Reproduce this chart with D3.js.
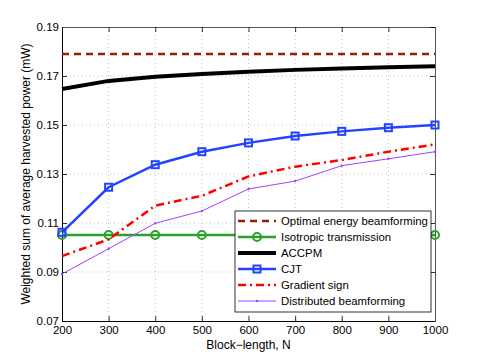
<!DOCTYPE html>
<html><head><meta charset="utf-8">
<script src="https://cdn.jsdelivr.net/npm/d3@7"></script>
<style>body{margin:0;background:#fff}text{font-family:"Liberation Sans",Arial,sans-serif}</style>
</head><body><svg id="c" width="480" height="361"></svg>
<script>
const blockLengths = [200,300,400,500,600,700,800,900,1000];
const optimal     = [0.179,0.179,0.179,0.179,0.179,0.179,0.179,0.179,0.179];
const isotropic   = [0.1051,0.1051,0.1051,0.1051,0.1051,0.1051,0.1051,0.1051,0.1051];
const accpm       = [0.1647,0.1680,0.1697,0.1708,0.1717,0.1725,0.1731,0.1736,0.1740];
const cjt         = [0.1062,0.1246,0.1338,0.1391,0.1427,0.1455,0.1474,0.1489,0.1500];
const gradient    = [0.0965,0.1033,0.1171,0.1211,0.1290,0.1330,0.1357,0.1391,0.1421];
const distributed = [0.0892,0.0995,0.1099,0.1149,0.1239,0.1271,0.1334,0.1362,0.1391];
const xTicks = [200,300,400,500,600,700,800,900,1000];
const yTicks = [0.07,0.09,0.11,0.13,0.15,0.17,0.19];
const seriesNames = ["Optimal energy beamforming","Isotropic transmission","ACCPM","CJT","Gradient sign","Distributed beamforming"];

const svg = d3.select("#c");
const L=62,R=435,T=27,B=321;
const x = d3.scaleLinear().domain([200,1000]).range([L,R]);
const y = d3.scaleLinear().domain([0.07,0.19]).range([B,T]);

// grid
const g = svg.append("g");
g.selectAll(".gx").data(xTicks.slice(1,-1)).join("line")
 .attr("x1",d=>x(d)).attr("x2",d=>x(d)).attr("y1",T).attr("y2",B)
 .attr("stroke","#b0b0b0").attr("stroke-width",0.8).attr("stroke-dasharray","1,3");
g.selectAll(".gy").data(yTicks.slice(1,-1)).join("line")
 .attr("y1",d=>y(d)).attr("y2",d=>y(d)).attr("x1",L).attr("x2",R)
 .attr("stroke","#b0b0b0").attr("stroke-width",0.8).attr("stroke-dasharray","1,3");

// axes
const fmt = d3.format(".2f");
const ax = svg.append("g").attr("transform",`translate(0,${B})`)
 .call(d3.axisBottom(x).tickValues(xTicks).tickSize(-5).tickPadding(5).tickFormat(d3.format("d")));
const ay = svg.append("g").attr("transform",`translate(${L},0)`)
 .call(d3.axisLeft(y).tickValues(yTicks).tickSize(-5).tickPadding(3).tickFormat(fmt));
const axTop = svg.append("g").attr("transform",`translate(0,${T})`)
 .call(d3.axisTop(x).tickValues(xTicks).tickSize(-5).tickFormat(""));
const ayR = svg.append("g").attr("transform",`translate(${R},0)`)
 .call(d3.axisRight(y).tickValues(yTicks).tickSize(-5).tickFormat(""));
[ax,ay,axTop,ayR].forEach(a=>{
  a.selectAll("text").attr("font-size",11.5).attr("fill","#000").style("font-family","Liberation Sans, Arial, sans-serif");
  a.selectAll(".domain").attr("stroke","#000").attr("stroke-width",1);
  a.selectAll(".tick line").attr("stroke","#000").attr("stroke-width",0.8);
});
axTop.select(".domain").attr("stroke","#555");
ayR.select(".domain").attr("stroke","#555");

const line = d3.line().x((d,i)=>x(blockLengths[i])).y(d=>y(d));
const pg = svg.append("g");
const series = [
 {name:seriesNames[0],data:optimal,color:"#9b1a0a",w:2.5,dash:"7,5",marker:null},
 {name:seriesNames[1],data:isotropic,color:"#2ca02c",w:2.5,dash:null,marker:"circle"},
 {name:seriesNames[2],data:accpm,color:"#000000",w:4,dash:null,marker:null},
 {name:seriesNames[3],data:cjt,color:"#2244ff",w:2.5,dash:null,marker:"square"},
 {name:seriesNames[4],data:gradient,color:"#ff0000",w:2.5,dash:"8,4,2,4",marker:null},
 {name:seriesNames[5],data:distributed,color:"#a040ff",w:1,dash:null,marker:"dot"}
];
function drawMarker(sel,s,cx,cy){
  if(s.marker==="circle") sel.append("circle").attr("cx",cx).attr("cy",cy).attr("r",4)
     .attr("fill","none").attr("stroke",s.color).attr("stroke-width",2);
  else if(s.marker==="square") sel.append("rect").attr("x",cx-3.5).attr("y",cy-3.5).attr("width",7).attr("height",7)
     .attr("fill","none").attr("stroke",s.color).attr("stroke-width",2);
  else if(s.marker==="dot") sel.append("circle").attr("cx",cx).attr("cy",cy).attr("r",1.2).attr("fill",s.color);
}
series.forEach(s=>{
  pg.append("path").datum(s.data).attr("d",line).attr("fill","none")
    .attr("stroke",s.color).attr("stroke-width",s.w).attr("stroke-dasharray",s.dash);
  if(s.marker) s.data.forEach((d,i)=>drawMarker(pg,s,x(blockLengths[i]),y(d)));
});

// legend
const lg = svg.append("g");
const lx=235, ly=211, lw=196, lh=101;
lg.append("rect").attr("x",lx).attr("y",ly).attr("width",lw).attr("height",lh)
  .attr("fill","#fff").attr("stroke","#000").attr("stroke-width",0.8);
series.forEach((s,i)=>{
  const yy = ly+10+i*16;
  lg.append("line").attr("x1",lx+3).attr("x2",lx+41).attr("y1",yy).attr("y2",yy)
    .attr("stroke",s.color).attr("stroke-width",s.w).attr("stroke-dasharray",s.dash);
  if(s.marker) drawMarker(lg,s,lx+22,yy);
  lg.append("text").attr("x",lx+46).attr("y",yy+4.2).attr("font-size",11.4).text(s.name);
});

svg.append("text").attr("x",(L+R)/2).attr("y",349).attr("text-anchor","middle").attr("font-size",12).text("Block\u2212length, N");
svg.append("text").attr("transform",`translate(30,${(T+B)/2}) rotate(-90)`).attr("text-anchor","middle")
  .attr("font-size",12).text("Weighted sum of average harvested power (mW)");
</script></body></html>
